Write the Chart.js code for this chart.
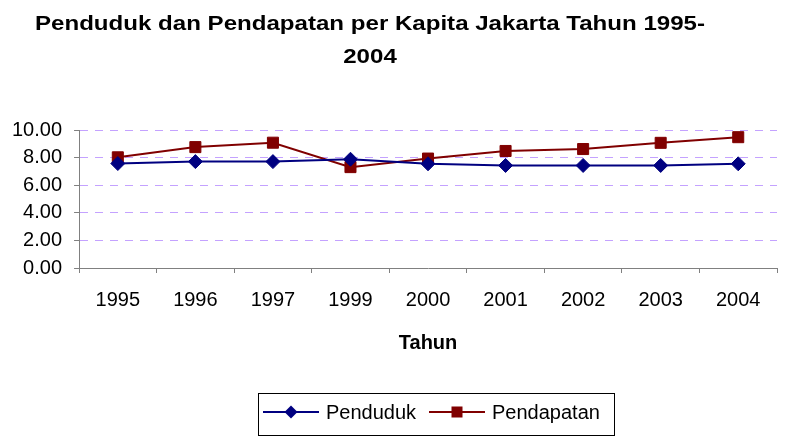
<!DOCTYPE html>
<html>
<head>
<meta charset="utf-8">
<script src="https://cdn.jsdelivr.net/npm/chart.js@4"></script>
<style>
  html, body { margin: 0; padding: 0; background: #fff; }
  #wrap { width: 791px; height: 438px; }
</style>
</head>
<body>
<div id="wrap"><canvas id="grafik" width="791" height="438"></canvas></div>
<script>
var tahun = ['1995', '1996', '1997', '1999', '2000', '2001', '2002', '2003', '2004']
var penduduk = [7.57, 7.71, 7.71, 7.88, 7.55, 7.43, 7.43, 7.43, 7.55]
var pendapatan = [8.02, 8.76, 9.08, 7.31, 7.93, 8.48, 8.62, 9.07, 9.48]
var judul = ['Penduduk dan Pendapatan per Kapita Jakarta Tahun 1995-', '2004']
var judulX = 'Tahun'
var font = 'Arial, "Liberation Sans", sans-serif'

// title + boxed legend drawn by hand (Excel style)
var hiasan = {
    id: 'hiasan',
    afterDraw: function (chart) {
        var ctx = chart.ctx
        ctx.save()
        ctx.fillStyle = '#000'
        ctx.textAlign = 'center'
        ctx.textBaseline = 'middle'
        ctx.font = 'bold 21px ' + font
        var w = ctx.measureText(judul[0]).width
        var sx = 670 / w
        ctx.save()
        ctx.translate(370, 0)
        ctx.scale(sx, 1)
        ctx.fillText(judul[0], 0, 24)
        ctx.fillText(judul[1], 0, 57)
        ctx.restore()

        // legend
        ctx.strokeStyle = '#000'
        ctx.lineWidth = 1
        ctx.strokeRect(258.5, 393.5, 356, 42)
        var x = 263
        ctx.font = '20px ' + font
        ctx.textAlign = 'left'
        chart.data.datasets.forEach(function (ds) {
            ctx.strokeStyle = ds.borderColor
            ctx.lineWidth = 2
            ctx.beginPath()
            ctx.moveTo(x, 412)
            ctx.lineTo(x + 56, 412)
            ctx.stroke()
            ctx.fillStyle = ds.backgroundColor
            ctx.beginPath()
            if (ds.pointStyle === 'rect') {
                ctx.fillRect(x + 28 - 5.5, 412 - 5.5, 11, 11)
            } else {
                ctx.moveTo(x + 28, 412 - 6.5)
                ctx.lineTo(x + 34.5, 412)
                ctx.lineTo(x + 28, 412 + 6.5)
                ctx.lineTo(x + 21.5, 412)
                ctx.closePath()
                ctx.fill()
            }
            ctx.fillStyle = '#000'
            ctx.fillText(ds.label, x + 63, 413)
            x += 166
        })
        ctx.restore()
    }
}

var ctx = document.getElementById('grafik')
var chart = new Chart(ctx, {
    type: 'line',
    data: {
        labels: tahun,
        datasets: [{
            label: 'Penduduk',
            data: penduduk,
            borderColor: '#000080',
            backgroundColor: '#000080',
            borderWidth: 2,
            pointStyle: 'rectRot',
            pointRadius: 7,
            pointBorderWidth: 1,
            tension: 0
        }, {
            label: 'Pendapatan',
            data: pendapatan,
            borderColor: '#800000',
            backgroundColor: '#800000',
            borderWidth: 2,
            pointStyle: 'rect',
            pointRadius: 7.8,
            pointBorderWidth: 1,
            tension: 0
        }]
    },
    options: {
        responsive: false,
        animation: false,
        layout: { padding: { top: 130, left: 0, right: 14, bottom: 83 } },
        plugins: {
            legend: { display: false },
            title: { display: false },
            tooltip: { enabled: false }
        },
        scales: {
            x: {
                offset: true,
                grid: {
                    offset: true,
                    drawOnChartArea: false,
                    tickLength: 5,
                    tickColor: '#808080'
                },
                border: { color: '#808080', width: 1 },
                ticks: { color: '#000', padding: 15, font: { family: font, size: 20 } },
                title: {
                    display: true,
                    text: judulX,
                    color: '#000',
                    font: { family: font, size: 20, weight: 'bold' },
                    padding: { top: 4, bottom: 0 }
                }
            },
            y: {
                min: 0,
                max: 10,
                ticks: {
                    stepSize: 2,
                    color: '#000',
                    padding: 12,
                    font: { family: font, size: 20 },
                    callback: function (v) { return Number(v).toFixed(2) }
                },
                grid: {
                    color: function (c) { return c.tick && c.tick.value === 0 ? 'rgba(0,0,0,0)' : '#c4a2ff' },
                    tickColor: '#808080',
                    tickLength: 5,
                    lineWidth: 1
                },
                border: { color: '#808080', width: 1, dash: [8, 7] }
            }
        }
    },
    plugins: [hiasan]
})
</script>
</body>
</html>
